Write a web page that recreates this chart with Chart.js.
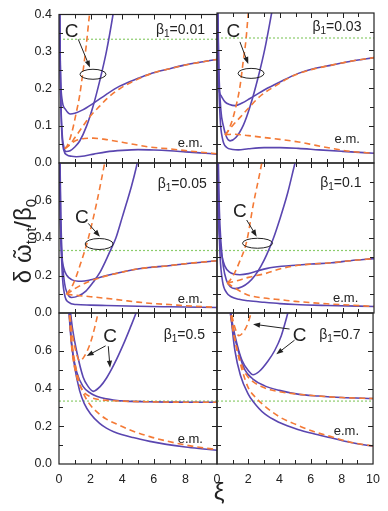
<!DOCTYPE html>
<html>
<head>
<meta charset="utf-8">
<script src="https://cdn.jsdelivr.net/npm/chart.js@4.4.0/dist/chart.umd.min.js"></script>
<style>
html, body { margin: 0; padding: 0; background: #fff; }
#wrap { position: relative; width: 388px; height: 511px; }
#wrap canvas { position: absolute; left: 0; top: 0; }
</style>
</head>
<body>
<div id="wrap"></div>
<script>
// curves, [xi, value] pairs
var b001_pur_upper = [[0.03,0.42],[0.08,0.26],[0.19,0.172],[0.4,0.145],[0.72,0.132],[1.0,0.134],[1.5,0.143],[2.15,0.16],[3.0,0.185],[3.84,0.207],[5.0,0.228],[5.75,0.24],[7.0,0.254],[7.86,0.263],[9.0,0.272],[10,0.279]];
var b001_pur_parab = [[0.04,0.42],[0.1,0.2],[0.2,0.08],[0.3,0.045],[0.45,0.031],[0.7,0.033],[1.0,0.043],[1.32,0.06],[1.75,0.1],[2.17,0.155],[2.57,0.22],[3.0,0.3],[3.42,0.4],[3.6,0.45]];
var b001_pur_em = [[0.05,0.42],[0.1,0.2],[0.18,0.08],[0.3,0.035],[0.5,0.022],[0.8,0.018],[1.1,0.017],[1.6,0.019],[2.2,0.024],[3.0,0.03],[4.0,0.034],[5.0,0.036],[6.0,0.035],[7.0,0.033],[8.0,0.03],[9.0,0.027],[10,0.024]];
var b001_dash_steep = [[0.37,0.039],[0.5,0.045],[0.8,0.08],[1.09,0.135],[1.3,0.18],[1.5,0.24],[1.72,0.315],[1.93,0.4],[2.05,0.44]];
var b001_dash_upper = [[0.37,0.039],[0.69,0.05],[1.0,0.068],[1.53,0.1],[2.0,0.127],[2.59,0.154],[3.0,0.172],[3.84,0.2],[5.0,0.226],[6.0,0.243],[7.0,0.254],[8.0,0.264],[9.0,0.272],[10,0.279]];
var b001_dash_em = [[0.37,0.039],[0.55,0.045],[0.79,0.053],[1.11,0.061],[1.6,0.066],[2.16,0.067],[3.0,0.063],[4.0,0.056],[5.0,0.048],[5.75,0.043],[7.0,0.038],[7.86,0.034],[9.0,0.029],[10,0.025]];

var b003_pur_upper = [[0.02,0.42],[0.05,0.3],[0.1,0.208],[0.25,0.18],[0.51,0.163],[0.8,0.156],[1.15,0.153],[1.6,0.16],[2.1,0.172],[3.06,0.196],[4.0,0.216],[5.18,0.239],[6.2,0.252],[7.3,0.261],[8.6,0.272],[10,0.281]];
var b003_pur_parab = [[0.05,0.42],[0.12,0.25],[0.25,0.14],[0.4,0.1],[0.6,0.07],[0.83,0.059],[1.2,0.068],[1.68,0.101],[2.1,0.15],[2.63,0.23],[3.05,0.305],[3.48,0.4],[3.7,0.45]];
var b003_pur_em = [[0.05,0.42],[0.1,0.25],[0.2,0.12],[0.35,0.065],[0.6,0.042],[1.0,0.036],[1.36,0.035],[2.0,0.038],[3.0,0.041],[4.0,0.041],[5.18,0.039],[6.5,0.035],[8.0,0.031],[10,0.026]];
var b003_dash_steep = [[0.51,0.075],[0.62,0.079],[0.9,0.105],[1.15,0.141],[1.46,0.203],[1.68,0.275],[1.85,0.33],[1.99,0.4],[2.1,0.45]];
var b003_dash_upper = [[0.51,0.075],[1.0,0.1],[1.5,0.123],[2.0,0.146],[2.8,0.18],[3.7,0.205],[4.5,0.225],[5.18,0.238],[6.2,0.251],[7.3,0.261],[8.6,0.272],[10,0.281]];
var b003_dash_em = [[0.51,0.075],[1.0,0.077],[2.0,0.073],[3.0,0.068],[4.0,0.063],[5.2,0.056],[6.3,0.047],[7.3,0.039],[8.5,0.031],[10,0.026]];

var b005_pur_upper = [[0.03,0.84],[0.08,0.5],[0.15,0.33],[0.3,0.24],[0.5,0.2],[0.8,0.178],[1.41,0.169],[2.0,0.177],[2.36,0.185],[3.0,0.2],[4.0,0.219],[4.69,0.231],[5.7,0.243],[6.8,0.251],[8.0,0.263],[9.0,0.271],[10,0.279]];
var b005_pur_parab = [[0.06,0.84],[0.12,0.5],[0.2,0.3],[0.35,0.16],[0.5,0.11],[0.79,0.083],[1.2,0.09],[1.7,0.117],[2.17,0.165],[2.6,0.218],[3.02,0.29],[3.25,0.333],[3.6,0.4],[4.0,0.51],[4.27,0.585],[4.6,0.68],[4.9,0.78],[5.0,0.82]];
var b005_pur_em = [[0.05,0.84],[0.1,0.5],[0.2,0.22],[0.35,0.1],[0.6,0.058],[1.1,0.045],[2.0,0.042],[3.0,0.04],[5.0,0.036],[7.0,0.033],[10,0.029]];
var b005_dash_steep = [[0.48,0.1],[0.88,0.151],[1.41,0.275],[1.83,0.391],[2.36,0.578],[2.89,0.8],[3.0,0.85]];
var b005_dash_upper = [[0.48,0.1],[1.0,0.13],[1.75,0.163],[2.4,0.183],[3.0,0.198],[4.0,0.218],[4.69,0.231],[5.7,0.243],[6.8,0.251],[8.0,0.263],[9.0,0.271],[10,0.279]];
var b005_dash_em = [[0.48,0.1],[1.1,0.094],[2.0,0.087],[3.0,0.078],[4.0,0.068],[5.0,0.058],[6.0,0.05],[7.0,0.045],[8.0,0.039],[9.0,0.034],[10,0.03]];

var b01_pur_upper = [[0.03,0.84],[0.08,0.55],[0.15,0.42],[0.3,0.31],[0.5,0.25],[0.8,0.218],[1.46,0.204],[2.0,0.21],[2.6,0.225],[3.2,0.238],[4.12,0.249],[5.0,0.255],[6.0,0.261],[7.3,0.268],[8.5,0.279],[10,0.29]];
var b01_pur_parab = [[0.08,0.84],[0.15,0.55],[0.25,0.38],[0.4,0.25],[0.6,0.175],[0.85,0.14],[1.15,0.13],[1.6,0.14],[2.0,0.162],[2.42,0.2],[2.8,0.25],[3.16,0.31],[3.6,0.4],[4.0,0.5],[4.5,0.64],[4.97,0.8],[5.1,0.84]];
var b01_pur_em = [[0.04,0.84],[0.1,0.55],[0.2,0.3],[0.35,0.17],[0.6,0.11],[0.94,0.085],[1.4,0.073],[2.0,0.065],[3.0,0.057],[4.0,0.05],[5.0,0.045],[7.0,0.04],[10,0.035]];
var b01_dash_steep = [[0.65,0.16],[0.83,0.175],[1.1,0.21],[1.36,0.258],[1.89,0.382],[2.31,0.578],[2.85,0.8],[2.95,0.85]];
var b01_dash_upper = [[0.65,0.16],[1.2,0.17],[2.0,0.19],[3.06,0.21],[4.0,0.235],[5.0,0.252],[6.0,0.261],[7.3,0.268],[8.5,0.279],[10,0.29]];
var b01_dash_em = [[0.65,0.16],[1.0,0.14],[1.5,0.115],[2.0,0.095],[3.0,0.08],[4.12,0.07],[5.0,0.062],[6.0,0.055],[7.0,0.049],[8.5,0.042],[10,0.035]];

var b05_pur_asym = [[0.6,0.84],[0.79,0.635],[1.11,0.49],[1.53,0.41],[2.0,0.375],[2.38,0.359],[3.0,0.345],[3.44,0.339],[4.27,0.333],[5.56,0.33],[7.0,0.328],[10,0.327]];
var b05_pur_parab = [[0.68,0.84],[0.85,0.72],[1.11,0.6],[1.53,0.46],[1.85,0.41],[2.17,0.385],[2.6,0.41],[3.02,0.457],[3.5,0.53],[4.08,0.635],[4.5,0.72],[4.92,0.81],[5.0,0.83]];
var b05_pur_em = [[0.62,0.84],[0.8,0.64],[1.0,0.51],[1.3,0.39],[1.6,0.32],[2.0,0.265],[2.57,0.215],[3.0,0.19],[3.5,0.17],[4.69,0.14],[5.75,0.12],[6.8,0.104],[8.0,0.09],[9.0,0.081],[10,0.073]];
var b05_dash_v = [[0.62,0.84],[0.79,0.72],[1.0,0.62],[1.32,0.546],[1.6,0.57],[1.96,0.635],[2.25,0.72],[2.49,0.81],[2.55,0.84]];
var b05_dash_asym = [[0.62,0.84],[0.8,0.62],[1.1,0.47],[1.5,0.39],[2.0,0.355],[2.5,0.342],[3.0,0.337],[4.0,0.333],[5.5,0.33],[7.0,0.328],[10,0.327]];
var b05_dash_em = [[0.62,0.84],[0.8,0.66],[1.0,0.54],[1.3,0.43],[1.6,0.365],[1.96,0.315],[2.57,0.263],[3.0,0.238],[3.63,0.212],[4.5,0.18],[5.75,0.145],[6.8,0.122],[7.86,0.103],[9.0,0.087],[10,0.077]];

var b07_pur_parab = [[0.8,0.84],[1.0,0.74],[1.3,0.63],[1.6,0.55],[2.0,0.495],[2.31,0.473],[2.7,0.49],[3.27,0.546],[3.69,0.6],[4.12,0.68],[4.44,0.77],[4.6,0.82]];
var b07_pur_asym = [[0.78,0.84],[1.0,0.72],[1.36,0.6],[1.78,0.5],[2.3,0.45],[3.06,0.414],[4.0,0.39],[5.18,0.37],[6.5,0.36],[8.0,0.352],[10,0.347]];
var b07_pur_em = [[0.85,0.84],[1.0,0.7],[1.15,0.6],[1.5,0.47],[2.0,0.37],[2.3,0.333],[3.06,0.265],[4.0,0.22],[5.18,0.183],[6.2,0.16],[7.3,0.139],[8.5,0.115],[10,0.094]];
var b07_dash_v = [[0.85,0.84],[1.0,0.77],[1.2,0.71],[1.4,0.68],[1.7,0.7],[2.0,0.75],[2.25,0.82],[2.35,0.85]];
var b07_dash_asym = [[0.82,0.84],[1.0,0.72],[1.3,0.6],[1.7,0.5],[2.0,0.46],[2.42,0.43],[3.0,0.405],[3.48,0.392],[4.2,0.38],[5.18,0.37],[6.5,0.36],[8.0,0.352],[10,0.347]];
var b07_dash_em = [[0.85,0.84],[1.0,0.74],[1.3,0.6],[1.6,0.5],[2.0,0.405],[2.5,0.35],[3.06,0.307],[4.0,0.25],[5.18,0.205],[6.2,0.172],[7.3,0.145],[8.5,0.117],[10,0.095]];

var betaLabels = ['0.01', '0.03', '0.05', '0.1', '0.5', '0.7'];
var yMaxByRow = [0.4, 0.8, 0.8];
var yStepByRow = [0.1, 0.2, 0.2];
var yMinorByRow = [0.05, 0.1, 0.1];
var xTicks = [0, 2, 4, 6, 8, 10];
var refLevel = 1 / 3;

var PURPLE = '#5a46b0';
var ORANGE = '#f47a36';
var GREEN = '#8ccc6c';
var INK = '#222';
var FONT = '"Liberation Sans", Arial, Helvetica, sans-serif';

// plot boxes in page pixels
var colX = [[59, 217], [217, 374]];
var rowY = [[13, 163], [163, 313], [313, 464]];

var panels = [
  { solid: [b001_pur_upper, b001_pur_parab, b001_pur_em], dashed: [b001_dash_steep, b001_dash_upper, b001_dash_em],
    c: [0.80, 0.339], arrows: [[1.22, 0.333, 1.96, 0.257]], ell: [2.15, 0.239, 13, 5], beta: [9.24, 0.347], em: [9.11, 0.0435] },
  { solid: [b003_pur_upper, b003_pur_parab, b003_pur_em], dashed: [b003_dash_steep, b003_dash_upper, b003_dash_em],
    c: [1.04, 0.337], arrows: [[1.46, 0.323, 1.99, 0.264]], ell: [2.17, 0.239, 13, 5], beta: [9.2, 0.353], em: [9.1, 0.0525] },
  { solid: [b005_pur_upper, b005_pur_parab, b005_pur_em], dashed: [b005_dash_steep, b005_dash_upper, b005_dash_em],
    c: [1.44, 0.478], arrows: [[1.85, 0.478, 2.59, 0.407]], ell: [2.54, 0.368, 14, 5.5], beta: [9.35, 0.665], em: [9.11, 0.053] },
  { solid: [b01_pur_upper, b01_pur_parab, b01_pur_em], dashed: [b01_dash_steep, b01_dash_upper, b01_dash_em],
    c: [1.46, 0.514], arrows: [[1.89, 0.496, 2.53, 0.407]], ell: [2.58, 0.372, 15, 5], beta: [9.2, 0.674], em: [9.0, 0.06] },
  { solid: [b05_pur_asym, b05_pur_parab, b05_pur_em], dashed: [b05_dash_v, b05_dash_asym, b05_dash_em],
    c: [3.23, 0.644], arrows: [[2.95, 0.626, 1.75, 0.572], [3.12, 0.624, 3.23, 0.51]], ell: null, beta: [9.24, 0.661], em: [9.11, 0.112] },
  { solid: [b07_pur_parab, b07_pur_asym, b07_pur_em], dashed: [b07_dash_v, b07_dash_asym, b07_dash_em],
    c: [5.29, 0.652], arrows: [[4.65, 0.715, 2.31, 0.741], [4.97, 0.656, 3.8, 0.581]], ell: null, beta: [9.2, 0.661], em: [9.1, 0.151] }
];

function toPoints(arr) {
  return arr.map(function (p) { return { x: p[0], y: p[1] }; });
}

function curve(arr, dashed) {
  return {
    data: toPoints(arr),
    borderColor: dashed ? ORANGE : PURPLE,
    borderWidth: 1.6,
    borderDash: dashed ? [6, 4] : [],
    pointRadius: 0,
    cubicInterpolationMode: 'monotone',
    fill: false,
    clip: 0
  };
}

function arrow(ctx, x1, y1, x2, y2) {
  var a = Math.atan2(y2 - y1, x2 - x1);
  ctx.beginPath();
  ctx.moveTo(x1, y1);
  ctx.lineTo(x2 - 4 * Math.cos(a), y2 - 4 * Math.sin(a));
  ctx.stroke();
  ctx.beginPath();
  ctx.moveTo(x2, y2);
  ctx.lineTo(x2 - 7 * Math.cos(a) + 2.6 * Math.sin(a), y2 - 7 * Math.sin(a) - 2.6 * Math.cos(a));
  ctx.lineTo(x2 - 7 * Math.cos(a) - 2.6 * Math.sin(a), y2 - 7 * Math.sin(a) + 2.6 * Math.cos(a));
  ctx.closePath();
  ctx.fill();
}

function makeDecor(p, idx, row, col) {
  return {
    id: 'decor' + idx,
    afterDatasetsDraw: function (chart) {
      var ctx = chart.ctx, a = chart.chartArea;
      var xs = chart.scales.x, ys = chart.scales.y;
      var ymax = yMaxByRow[row], ymaj = yStepByRow[row], ymin = yMinorByRow[row];
      ctx.save();
      ctx.strokeStyle = INK;
      ctx.fillStyle = INK;

      // frame + inward ticks on all sides
      ctx.lineWidth = 1.2;
      ctx.strokeRect(a.left, a.top, a.right - a.left, a.bottom - a.top);
      ctx.lineWidth = 1;
      ctx.beginPath();
      for (var v = 1; v < 10; v++) {
        var X = Math.round(xs.getPixelForValue(v)) + 0.5;
        var len = v % 2 === 0 ? 5 : 4;
        ctx.moveTo(X, a.bottom); ctx.lineTo(X, a.bottom - len);
        ctx.moveTo(X, a.top); ctx.lineTo(X, a.top + len);
      }
      var n = Math.round(ymax / ymin);
      for (var k = 1; k < n; k++) {
        var Y = Math.round(ys.getPixelForValue(k * ymin)) + 0.5;
        var l2 = (k * ymin / ymaj) % 1 < 1e-6 || (k * ymin / ymaj) % 1 > 1 - 1e-6 ? 5 : 4;
        ctx.moveTo(a.left, Y); ctx.lineTo(a.left + l2, Y);
        ctx.moveTo(a.right, Y); ctx.lineTo(a.right - l2, Y);
      }
      ctx.stroke();

      // C marker, arrows, loop
      ctx.font = '19px ' + FONT;
      ctx.textAlign = 'center';
      ctx.textBaseline = 'alphabetic';
      ctx.fillText('C', xs.getPixelForValue(p.c[0]), ys.getPixelForValue(p.c[1]));
      ctx.lineWidth = 1;
      p.arrows.forEach(function (r) {
        arrow(ctx, xs.getPixelForValue(r[0]), ys.getPixelForValue(r[1]), xs.getPixelForValue(r[2]), ys.getPixelForValue(r[3]));
      });
      if (p.ell) {
        ctx.beginPath();
        ctx.ellipse(xs.getPixelForValue(p.ell[0]), ys.getPixelForValue(p.ell[1]), p.ell[2], p.ell[3], 0, 0, Math.PI * 2);
        ctx.stroke();
      }

      // beta_1 label, right aligned
      var bx = xs.getPixelForValue(p.beta[0]), by = ys.getPixelForValue(p.beta[1]);
      var tail = '=' + betaLabels[idx];
      ctx.textAlign = 'left';
      ctx.font = '14px ' + FONT;
      var w1 = ctx.measureText('\u03b2').width, w3 = ctx.measureText(tail).width;
      ctx.font = '10px ' + FONT;
      var w2 = ctx.measureText('1').width;
      var x0 = bx - (w1 + w2 + w3);
      ctx.font = '14px ' + FONT;
      ctx.fillText('\u03b2', x0, by);
      ctx.font = '10px ' + FONT;
      ctx.fillText('1', x0 + w1, by + 3);
      ctx.font = '14px ' + FONT;
      ctx.fillText(tail, x0 + w1 + w2, by);

      ctx.textAlign = 'right';
      ctx.font = '13px ' + FONT;
      ctx.fillText('e.m.', xs.getPixelForValue(p.em[0]), ys.getPixelForValue(p.em[1]));

      // shared axis titles
      if (idx === 2) {
        ctx.translate(31, 241);
        ctx.rotate(-Math.PI / 2);
        var parts = [['\u03b4 ', 24, 0], ['\u03c9', 24, 0], ['tot', 15, 5], ['/\u03b2', 24, 0], ['0', 15, 5]];
        var tot = 0;
        parts.forEach(function (q) { ctx.font = q[1] + 'px ' + FONT; q.push(ctx.measureText(q[0]).width); tot += q[3]; });
        var cx = -tot / 2;
        ctx.textAlign = 'left';
        parts.forEach(function (q, i) {
          ctx.font = q[1] + 'px ' + FONT;
          ctx.fillText(q[0], cx, q[2]);
          if (i === 1) {
            ctx.textAlign = 'center';
            ctx.font = '22px ' + FONT;
            ctx.fillText('\u02dc', cx + q[3] / 2, -2);
            ctx.textAlign = 'left';
          }
          cx += q[3];
        });
      }
      if (idx === 5) {
        ctx.font = '24px ' + FONT;
        ctx.textAlign = 'center';
        ctx.textBaseline = 'middle';
        ctx.fillText('\u03be', 219, 493);
      }
      ctx.restore();
    }
  };
}

var wrap = document.getElementById('wrap');

panels.forEach(function (p, idx) {
  var row = Math.floor(idx / 2), col = idx % 2;
  var L = colX[col][0], R = colX[col][1], T = rowY[row][0], B = rowY[row][1];
  var cv = document.createElement('canvas');
  cv.width = 388;
  cv.height = 511;
  wrap.appendChild(cv);

  var datasets = [];
  p.dashed.forEach(function (c) { datasets.push(curve(c, true)); });
  p.solid.forEach(function (c) { datasets.push(curve(c, false)); });
  datasets.push({
    data: [{ x: 0, y: refLevel }, { x: 10, y: refLevel }],
    borderColor: GREEN, borderWidth: 1.2, borderDash: [2, 2], pointRadius: 0, fill: false, clip: 0
  });

  new Chart(cv, {
    type: 'line',
    data: { datasets: datasets },
    options: {
      responsive: false,
      animation: false,
      events: [],
      layout: { padding: { left: L - 40, top: T, right: 388 - R, bottom: 511 - B - 25 } },
      plugins: { legend: { display: false }, tooltip: { enabled: false } },
      scales: {
        x: {
          type: 'linear', min: 0, max: 10,
          grid: { display: false, drawTicks: false }, border: { display: false },
          afterBuildTicks: function (s) { s.ticks = xTicks.map(function (v) { return { value: v }; }); },
          ticks: {
            display: row === 2, autoSkip: false, maxRotation: 0, padding: 8, color: INK,
            font: { family: FONT, size: 12.5 },
            callback: function (v) { return (col === 0 && v === 10) ? '' : String(v); }
          },
          afterFit: function (s) { s.height = 25; }
        },
        y: {
          type: 'linear', min: 0, max: yMaxByRow[row],
          grid: { display: false, drawTicks: false }, border: { display: false },
          ticks: {
            display: col === 0, stepSize: yStepByRow[row], autoSkip: false, padding: 7, color: INK,
            font: { family: FONT, size: 12.5 },
            callback: function (v) { return (row > 0 && Math.abs(v - yMaxByRow[row]) < 1e-6) ? '' : v.toFixed(1); }
          },
          afterFit: function (s) { s.width = 40; }
        }
      }
    },
    plugins: [makeDecor(p, idx, row, col)]
  });
});
</script>
</body>
</html>
